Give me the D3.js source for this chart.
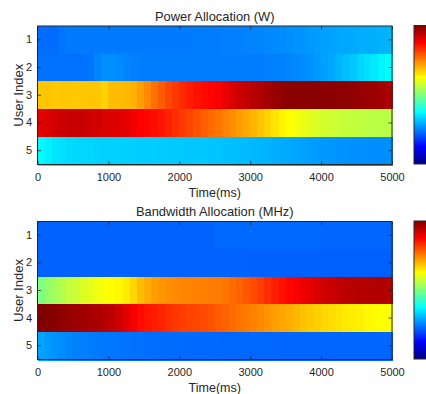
<!DOCTYPE html>
<html>
<head>
<meta charset="utf-8">
<script src="https://cdn.jsdelivr.net/npm/d3@7"></script>
<style>
  body { margin: 0; background: #fff; }
  svg { display: block; }
  text { font-family: "Liberation Sans", Arial, Helvetica, sans-serif; fill: #262626; }
</style>
</head>
<body>
<svg id="chart" width="426" height="394"></svg>
<script>
// Users and time axis
const users = [1, 2, 3, 4, 5];
const timeTicks = [0, 1000, 2000, 3000, 4000, 5000];
const timeStep = 100;               // each column spans 100 ms
const timeStart = d3.range(0, 5000, timeStep);

// Power allocation per user (normalised colour value, 0..1), one value per 100 ms
const powerUser1 = [0.232,0.232,0.232,0.24,0.245,0.245,0.245,0.245,0.245,0.245,
  0.245,0.245,0.245,0.245,0.245,0.245,0.245,0.245,0.245,0.245,
  0.245,0.245,0.247,0.247,0.248,0.248,0.25,0.25,0.25,0.252,
  0.255,0.255,0.258,0.26,0.262,0.265,0.268,0.27,0.275,0.278,
  0.282,0.285,0.288,0.29,0.292,0.295,0.296,0.298,0.3,0.3];
const powerUser2 = [0.235,0.235,0.235,0.235,0.235,0.235,0.235,0.24,0.255,0.265,
  0.265,0.26,0.255,0.25,0.248,0.248,0.248,0.248,0.248,0.248,
  0.248,0.248,0.248,0.248,0.248,0.248,0.248,0.248,0.248,0.248,
  0.248,0.248,0.25,0.25,0.252,0.255,0.258,0.262,0.268,0.275,
  0.282,0.29,0.3,0.31,0.32,0.335,0.345,0.355,0.365,0.375];
const powerUser3 = [0.68,0.682,0.678,0.68,0.68,0.678,0.68,0.682,0.68,0.668,
  0.69,0.692,0.695,0.7,0.72,0.74,0.765,0.785,0.805,0.82,
  0.835,0.848,0.858,0.866,0.872,0.878,0.895,0.91,0.925,0.935,
  0.945,0.955,0.965,0.975,0.985,0.988,0.99,0.99,0.99,0.99,
  0.99,0.99,0.988,0.985,0.982,0.978,0.975,0.97,0.965,0.955];
const powerUser4 = [0.905,0.912,0.92,0.925,0.93,0.93,0.928,0.922,0.918,0.912,
  0.908,0.904,0.9,0.89,0.876,0.87,0.862,0.855,0.842,0.83,
  0.818,0.806,0.795,0.782,0.77,0.76,0.748,0.735,0.722,0.71,
  0.698,0.685,0.668,0.65,0.635,0.625,0.615,0.605,0.595,0.588,
  0.582,0.576,0.572,0.568,0.565,0.562,0.56,0.558,0.556,0.555];
const powerUser5 = [0.372,0.36,0.35,0.345,0.34,0.338,0.335,0.335,0.332,0.33,
  0.33,0.33,0.328,0.328,0.326,0.325,0.325,0.324,0.323,0.322,
  0.322,0.321,0.32,0.32,0.318,0.316,0.314,0.312,0.31,0.308,
  0.305,0.302,0.3,0.296,0.293,0.29,0.287,0.284,0.28,0.277,
  0.275,0.273,0.27,0.268,0.266,0.265,0.265,0.264,0.264,0.265];

// Bandwidth allocation per user (normalised colour value, 0..1)
const bandUser1 = [0.222,0.222,0.222,0.222,0.222,0.222,0.222,0.222,0.222,0.222,
  0.222,0.222,0.222,0.222,0.222,0.222,0.222,0.222,0.222,0.222,
  0.222,0.222,0.222,0.222,0.222,0.228,0.228,0.228,0.228,0.228,
  0.228,0.228,0.228,0.228,0.228,0.228,0.228,0.228,0.228,0.228,
  0.225,0.225,0.225,0.225,0.225,0.225,0.225,0.225,0.225,0.225];
const bandUser2 = [0.222,0.222,0.222,0.222,0.222,0.222,0.222,0.222,0.222,0.222,
  0.222,0.222,0.222,0.222,0.222,0.222,0.222,0.222,0.222,0.222,
  0.222,0.222,0.222,0.222,0.222,0.222,0.222,0.222,0.222,0.222,
  0.22,0.22,0.22,0.22,0.22,0.22,0.22,0.22,0.22,0.22,
  0.218,0.218,0.218,0.218,0.218,0.218,0.218,0.218,0.218,0.218];
const bandUser3 = [0.5,0.52,0.535,0.55,0.565,0.575,0.59,0.6,0.612,0.62,
  0.625,0.632,0.645,0.665,0.69,0.705,0.72,0.728,0.735,0.74,
  0.745,0.746,0.748,0.75,0.752,0.755,0.76,0.768,0.778,0.79,
  0.8,0.815,0.83,0.845,0.858,0.87,0.88,0.892,0.9,0.91,
  0.92,0.928,0.935,0.942,0.946,0.948,0.95,0.952,0.952,0.95];
const bandUser4 = [1.0,0.995,0.99,0.985,0.978,0.972,0.968,0.962,0.958,0.95,
  0.94,0.925,0.905,0.885,0.865,0.855,0.848,0.84,0.83,0.822,
  0.815,0.81,0.805,0.8,0.795,0.785,0.778,0.77,0.762,0.755,
  0.748,0.74,0.73,0.72,0.712,0.705,0.695,0.685,0.678,0.672,
  0.665,0.658,0.652,0.646,0.642,0.638,0.632,0.628,0.624,0.62];
const bandUser5 = [0.285,0.275,0.268,0.262,0.256,0.252,0.25,0.248,0.245,0.243,
  0.242,0.24,0.238,0.236,0.235,0.234,0.233,0.232,0.231,0.23,
  0.23,0.229,0.229,0.228,0.228,0.228,0.227,0.227,0.227,0.226,
  0.226,0.226,0.226,0.226,0.225,0.225,0.225,0.225,0.225,0.225,
  0.225,0.225,0.225,0.225,0.225,0.225,0.225,0.225,0.225,0.225];

const powerRows = [powerUser1, powerUser2, powerUser3, powerUser4, powerUser5];
const bandRows = [bandUser1, bandUser2, bandUser3, bandUser4, bandUser5];

// Jet colormap
function jet(t) {
  const c = v => Math.max(0, Math.min(1, v));
  const r = c(1.5 - Math.abs(4 * t - 3));
  const g = c(1.5 - Math.abs(4 * t - 2));
  const b = c(1.5 - Math.abs(4 * t - 1));
  return d3.rgb(r * 255, g * 255, b * 255).toString();
}
const color = d3.scaleSequential(jet).domain([0, 1]);

const svg = d3.select("#chart");
const defs = svg.append("defs");
const grad = defs.append("linearGradient")
  .attr("id", "jetGrad").attr("x1", 0).attr("y1", 1).attr("x2", 0).attr("y2", 0);
d3.range(0, 1.0001, 1 / 64).forEach(t => {
  grad.append("stop").attr("offset", t).attr("stop-color", color(t));
});

const plotLeft = 37.5, plotRight = 392;
const x = d3.scaleLinear().domain([0, 5000]).range([plotLeft, plotRight]);
const axisColor = "#262626";
const tickLen = 3.5;
const fontFamily = '"Liberation Sans", Arial, Helvetica, sans-serif';

function drawPanel(top, bottom, title, rows) {
  const g = svg.append("g");
  const y = d3.scaleBand().domain(users).range([top, bottom]);

  // heatmap cells
  rows.forEach((vals, ui) => {
    g.append("g").attr("shape-rendering", "crispEdges")
      .selectAll("rect")
      .data(vals)
      .join("rect")
      .attr("x", (d, i) => x(timeStart[i]))
      .attr("width", (d, i) => x(timeStart[i] + timeStep) - x(timeStart[i]) + 1)
      .attr("y", y(users[ui]))
      .attr("height", y.bandwidth() + 1)
      .attr("fill", d => color(d));
  });

  // axes with inward ticks on all four sides
  const styleAxis = sel => {
    sel.select(".domain").remove();
    sel.selectAll(".tick line").attr("stroke", axisColor).attr("stroke-width", 0.8);
    sel.selectAll(".tick text").attr("fill", axisColor).style("font-size", "11px")
      .style("font-family", fontFamily);
  };
  g.append("g").attr("transform", `translate(0,${bottom})`)
    .call(d3.axisBottom(x).tickValues(timeTicks).tickSize(-tickLen).tickPadding(8.4).tickFormat(d3.format("d")))
    .call(styleAxis);
  g.append("g").attr("transform", `translate(0,${top})`)
    .call(d3.axisTop(x).tickValues(timeTicks).tickSize(-tickLen).tickFormat(""))
    .call(styleAxis);
  g.append("g").attr("transform", `translate(${plotLeft},0)`)
    .call(d3.axisLeft(y).tickSize(-tickLen).tickPadding(5.5))
    .call(styleAxis);
  g.append("g").attr("transform", `translate(${plotRight},0)`)
    .call(d3.axisRight(y).tickSize(-tickLen).tickFormat(""))
    .call(styleAxis);

  // frame
  g.append("rect")
    .attr("x", plotLeft).attr("y", top)
    .attr("width", plotRight - plotLeft).attr("height", bottom - top)
    .attr("fill", "none").attr("stroke", axisColor).attr("stroke-width", 1);

  // labels
  g.append("text").attr("x", (plotLeft + plotRight) / 2).attr("y", top - 5.5)
    .attr("text-anchor", "middle").style("font-size", "12.9px").text(title);
  g.append("text").attr("x", (plotLeft + plotRight) / 2).attr("y", bottom + 32.5)
    .attr("text-anchor", "middle").style("font-size", "12.5px").text("Time(ms)");
  g.append("text")
    .attr("transform", `translate(22.5,${(top + bottom) / 2}) rotate(-90)`)
    .attr("text-anchor", "middle").style("font-size", "13px").text("User Index");

  // colorbar
  g.append("rect")
    .attr("x", 414).attr("y", top - 0.5)
    .attr("width", 16).attr("height", bottom - top)
    .attr("fill", "url(#jetGrad)")
    .attr("stroke", axisColor).attr("stroke-width", 1);
}

drawPanel(26, 164.5, "Power Allocation (W)", powerRows);
drawPanel(221.5, 359.5, "Bandwidth Allocation (MHz)", bandRows);
</script>
</body>
</html>
